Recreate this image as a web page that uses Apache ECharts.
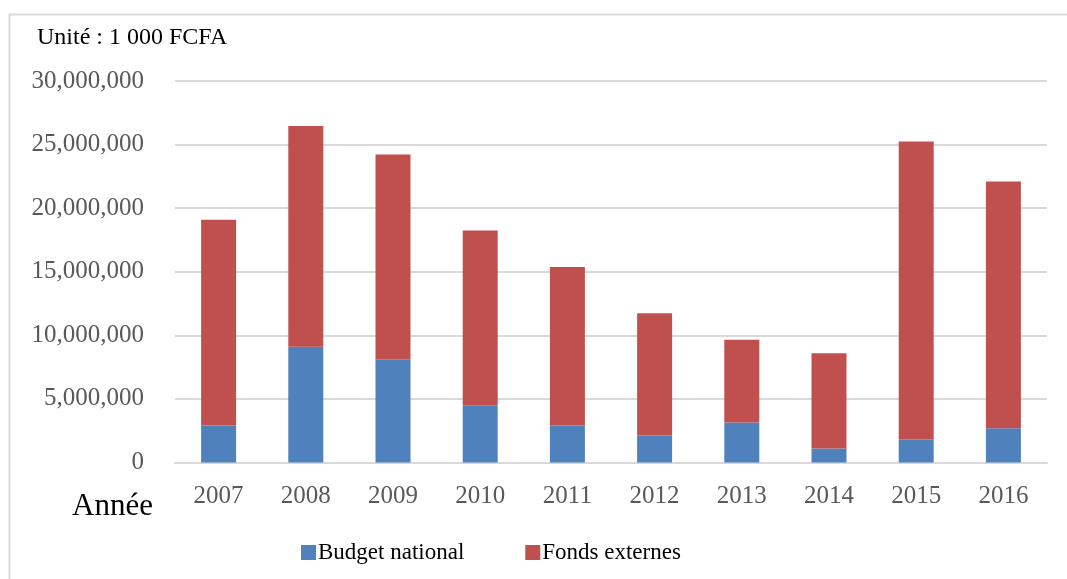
<!DOCTYPE html>
<html>
<head>
<meta charset="utf-8">
<script src="https://cdn.jsdelivr.net/npm/echarts@6/dist/echarts.min.js"></script>
<style>
html, body { margin: 0; padding: 0; background: #fff; }
#chart { width: 1067px; height: 579px; }
</style>
</head>
<body>
<div id="chart"></div>
<script>
var years = ['2007', '2008', '2009', '2010', '2011', '2012', '2013', '2014', '2015', '2016'];
var budgetNational = [2910000, 9110000, 8110000, 4500000, 2910000, 2120000, 3140000, 1100000, 1810000, 2690000];
var fondsExternes = [16180000, 17360000, 16110000, 13750000, 12460000, 9610000, 6520000, 7490000, 23430000, 19410000];
var yTicks = [0, 5000000, 10000000, 15000000, 20000000, 25000000, 30000000];

var serif = '"Liberation Serif", "DejaVu Serif", serif';

var chart = echarts.init(document.getElementById('chart'));
var option = {
    animation: false,
    backgroundColor: '#fff',
    title: {
        text: 'Unité : 1 000 FCFA',
        left: 32,
        top: 21,
        textStyle: { fontFamily: serif, fontSize: 24, fontWeight: 'normal', color: '#000' }
    },
    legend: {
        left: 296,
        top: 536,
        itemWidth: 15,
        itemHeight: 15,
        itemGap: 61,
        icon: 'rect',
        data: ['Budget national', 'Fonds externes'],
        textStyle: { fontFamily: serif, fontSize: 23, color: '#000', padding: [0, 0, 0, -3] }
    },
    grid: {
        left: 175,
        right: 20,
        top: 81,
        bottom: 116.5
    },
    xAxis: {
        type: 'category',
        data: years,
        axisTick: { show: false },
        axisLine: { lineStyle: { color: '#d9d9d9', width: 2 } },
        axisLabel: { fontFamily: serif, fontSize: 25, color: '#595959', margin: 21 }
    },
    yAxis: {
        type: 'value',
        min: yTicks[0],
        max: yTicks[yTicks.length - 1],
        interval: yTicks[1] - yTicks[0],
        axisLine: { show: false },
        axisTick: { show: false },
        splitLine: { lineStyle: { color: '#d9d9d9', width: 2 } },
        axisLabel: {
            fontFamily: serif, fontSize: 25, color: '#595959', margin: 31,
            formatter: function (v) { return v.toString().replace(/\B(?=(\d{3})+(?!\d))/g, ','); }
        }
    },
    series: [
        {
            name: 'Budget national',
            type: 'bar',
            stack: 'total',
            barWidth: 35,
            itemStyle: { color: '#4f81bd' },
            data: budgetNational
        },
        {
            name: 'Fonds externes',
            type: 'bar',
            stack: 'total',
            barWidth: 35,
            itemStyle: { color: '#c0504d' },
            data: fondsExternes
        }
    ],
    graphic: [
        {
            type: 'polyline',
            shape: { points: [[9.5, 579], [9.5, 14.5], [1067, 14.5]] },
            style: { stroke: '#d9d9d9', lineWidth: 2, fill: null }
        },
        {
            type: 'text',
            left: 72,
            top: 491,
            style: { text: 'Année', font: '31px ' + serif, fill: '#000' }
        }
    ]
};
chart.setOption(option);
window.addEventListener('resize', function () {
    chart.resize();
});
</script>
</body>
</html>
